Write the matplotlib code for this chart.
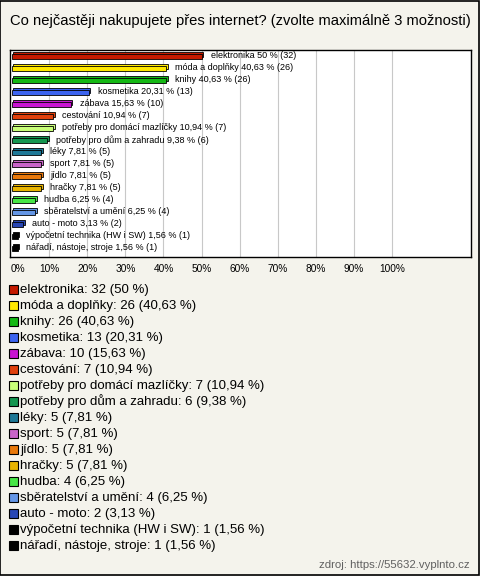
import matplotlib.pyplot as plt
from matplotlib.patches import Rectangle

categories = ["elektronika", "móda a doplňky", "knihy", "kosmetika", "zábava",
              "cestování", "potřeby pro domácí mazlíčky", "potřeby pro dům a zahradu",
              "léky", "sport", "jídlo", "hračky", "hudba", "sběratelství a umění",
              "auto - moto", "výpočetní technika (HW i SW)", "nářadí, nástoje, stroje"]
counts = [32, 26, 26, 13, 10, 7, 7, 6, 5, 5, 5, 5, 4, 4, 2, 1, 1]
percents = [50, 40.63, 40.63, 20.31, 15.63, 10.94, 10.94, 9.38, 7.81, 7.81, 7.81,
            7.81, 6.25, 6.25, 3.13, 1.56, 1.56]
colors = ["#c41a00", "#ffe800", "#14b814", "#3c64f0", "#c814d2", "#e0400c",
          "#c8ff78", "#149650", "#1e7896", "#c864c8", "#e8780a", "#e8b400",
          "#46e646", "#6496e6", "#2846b4", "#000000", "#000000"]
ticks = [0, 10, 20, 30, 40, 50, 60, 70, 80, 90, 100]

W, H = 480, 576
bg = "#f4f3ec"

fig = plt.figure(figsize=(W / 100, H / 100), dpi=100, facecolor=bg)
fig.patches.append(Rectangle((0.001, 0.001), 0.997, 0.997, transform=fig.transFigure,
                             fill=False, edgecolor="black", linewidth=1.2))


def fx(px):
    return px / W


def fy(py):
    return 1 - py / H


def fmt(p):
    return ("%g" % p).replace(".", ",")


fig.text(fx(10), fy(21), "Co nejčastěji nakupujete přes internet? (zvolte maximálně 3 možnosti)",
         fontsize=10.6, family="Liberation Sans", va="center", ha="left")

ax = fig.add_axes([fx(10), fy(257), fx(461), (257 - 50) / H])
ax.set_facecolor("white")
ax.set_xlim(-0.26, 120.7)
ax.set_ylim(16.75, -0.5)

for t in ticks[1:]:
    ax.axvline(t, color="#c8c8c8", linewidth=0.8, zorder=0)

for i, (p, c) in enumerate(zip(percents, colors)):
    # back face gives the 3D look
    ax.barh(i - 0.14, p, left=0.5, height=0.42, color=c, edgecolor="black",
            linewidth=0.6, zorder=2)
    ax.barh(i + 0.04, p, left=0.15, height=0.42, color=c, edgecolor="black",
            linewidth=0.6, zorder=3)
    ax.text(p + 2.5, i, "%s %s %% (%d)" % (categories[i], fmt(p), counts[i]),
            fontsize=6.5, family="Liberation Sans", va="center", ha="left", zorder=4)

ax.set_xticks(ticks)
ax.set_xticklabels(["%d%%" % t for t in ticks], fontsize=7.3, family="Liberation Sans")
ax.get_xticklabels()[0].set_ha("left")
ax.tick_params(axis="x", length=0, pad=5)
ax.set_yticks([])
for s in ax.spines.values():
    s.set_linewidth(1)

for i, (cat, n, p, c) in enumerate(zip(categories, counts, percents, colors)):
    yc = 289 + i * 16
    fig.patches.append(Rectangle((fx(9), fy(yc + 4.5)), fx(8.5), 9 / H,
                                 transform=fig.transFigure, facecolor=c,
                                 edgecolor="black", linewidth=0.8))
    fig.text(fx(20), fy(yc + 4.5), "%s: %d (%s %%)" % (cat, n, fmt(p)), fontsize=9.5,
             family="Liberation Sans", va="baseline", ha="left")

fig.text(fx(470), fy(565), "zdroj: https://55632.vyplnto.cz", fontsize=8.2,
         family="Liberation Sans", color="#606060", va="center", ha="right")

fig.savefig("out.png", dpi=100, facecolor=bg)
